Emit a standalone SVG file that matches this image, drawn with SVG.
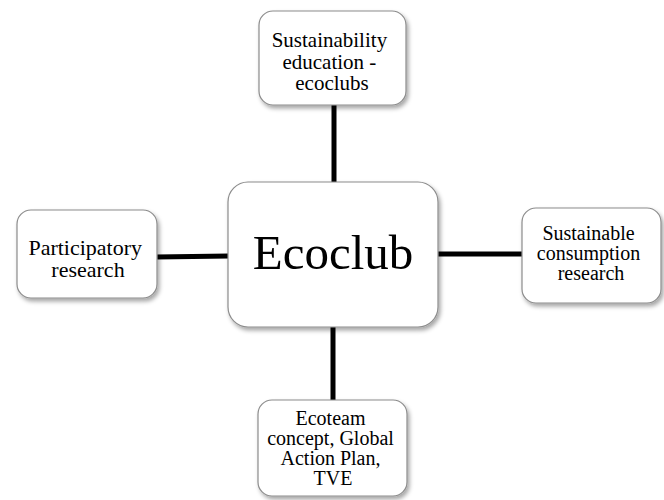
<svg xmlns="http://www.w3.org/2000/svg" width="664" height="500" viewBox="0 0 664 500">
  <defs>
    <filter id="shadow" x="-10%" y="-10%" width="130%" height="130%">
      <feDropShadow dx="2" dy="3" stdDeviation="2" flood-color="#000" flood-opacity="0.35"/>
    </filter>
    <style>
      .box { fill: #ffffff; stroke: #8c8c8c; stroke-width: 1.2; filter: url(#shadow); }
      .lbl { font-family: "Liberation Serif", "Times New Roman", serif; fill: #000; text-anchor: middle; }
      .link { stroke: #000; stroke-width: 5; fill: none; }
    </style>
  </defs>
  <rect width="664" height="500" fill="#ffffff"/>

  <g id="connectors">
    <line class="link" x1="334" y1="104" x2="334" y2="183"/>
    <line class="link" x1="333" y1="326" x2="333" y2="401"/>
    <line class="link" x1="156" y1="257" x2="229" y2="256"/>
    <line class="link" x1="437" y1="254" x2="523" y2="254"/>
  </g>

  <g id="ecoclub">
    <rect class="box" x="228" y="182" width="210" height="145" rx="20"/>
    <text class="lbl" x="333" y="269" font-size="49">Ecoclub</text>
  </g>

  <g id="sustainability-education">
    <rect class="box" x="259" y="11" width="147" height="94" rx="14"/>
    <text class="lbl" font-size="21">
      <tspan x="332" y="47">Sustainability</tspan>
      <tspan x="332" y="69">education -</tspan>
      <tspan x="332" y="90">ecoclubs</tspan>
    </text>
  </g>

  <g id="participatory-research">
    <rect class="box" x="17" y="210" width="140" height="88" rx="14"/>
    <text class="lbl" font-size="22">
      <tspan x="88" y="255">Participatory</tspan>
      <tspan x="88" y="277">research</tspan>
    </text>
  </g>

  <g id="sustainable-consumption">
    <rect class="box" x="522" y="208" width="139" height="95" rx="14"/>
    <text class="lbl" font-size="20">
      <tspan x="591" y="240">Sustainable</tspan>
      <tspan x="591" y="260">consumption</tspan>
      <tspan x="591" y="280">research</tspan>
    </text>
  </g>

  <g id="ecoteam">
    <rect class="box" x="258" y="400" width="149" height="96" rx="14"/>
    <text class="lbl" font-size="20">
      <tspan x="333" y="425">Ecoteam</tspan>
      <tspan x="333" y="445">concept, Global</tspan>
      <tspan x="333" y="465">Action Plan,</tspan>
      <tspan x="333" y="485">TVE</tspan>
    </text>
  </g>
</svg>
